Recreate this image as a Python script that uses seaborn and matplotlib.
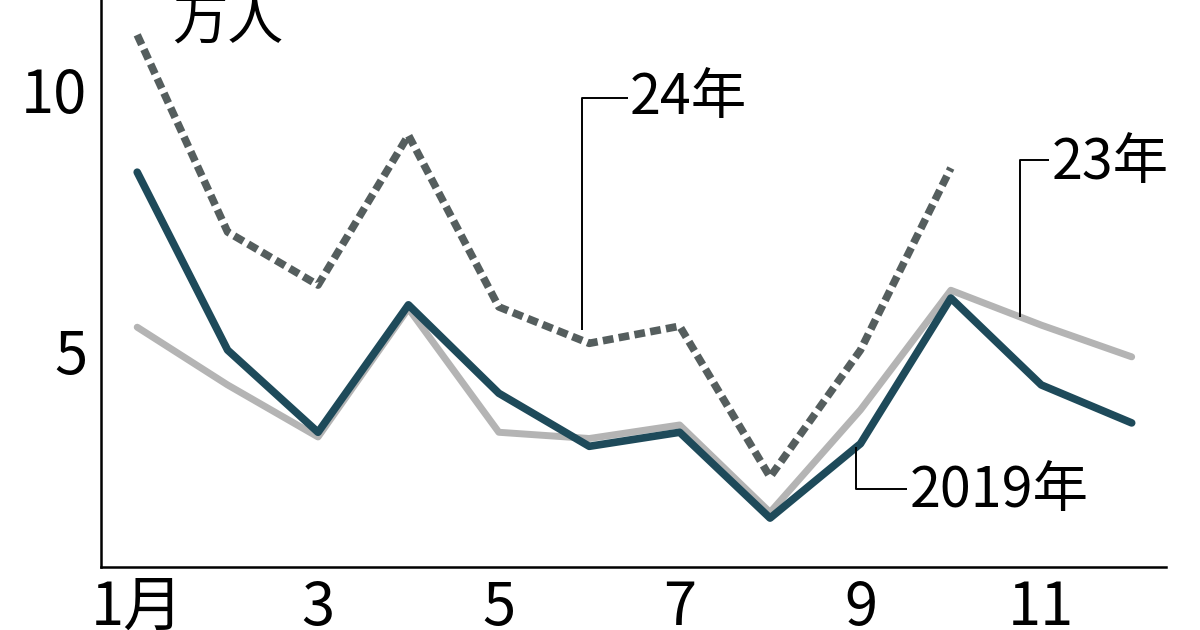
import pandas as pd
import matplotlib
matplotlib.use('Agg')
import matplotlib.pyplot as plt
import seaborn as sns

# monthly visitors (10k people)
months = list(range(1, 13))
v2019 = [8.42, 5.0, 3.42, 5.87, 4.17, 3.15, 3.42, 1.77, 3.2, 6.0, 4.33, 3.6]
v2023 = [5.44, 4.33, 3.33, 5.8, 3.42, 3.3, 3.56, 1.88, 3.85, 6.15, 5.48, 4.87]
v2024 = [11.06, 7.27, 6.25, 9.13, 5.83, 5.13, 5.46, 2.56, 5.0, 8.5]
x_ticklabels = ['1月', '', '3', '', '5', '', '7', '', '9', '', '11', '']
y_ticks = [5, 10]

sns.set_theme(style='white')
jp_font = ['Noto Sans CJK JP', 'DejaVu Sans']
plt.rcParams['font.family'] = jp_font

fig = plt.figure(figsize=(12, 6.3), dpi=100)
ax = fig.add_axes([0.0842, 0.1, 0.8875, 0.9])

sns.lineplot(x=months, y=v2023, ax=ax, color='#b4b4b4', lw=5.0,
             solid_capstyle='round')
sns.lineplot(x=months, y=v2019, ax=ax, color='#1e4a5a', lw=5.5,
             solid_capstyle='round')
sns.lineplot(x=months[:len(v2024)], y=v2024, ax=ax, color='#555e5e', lw=5.5,
             linestyle=(0, (1.4, 0.7)), dash_capstyle='butt')

ax.set_xlim(0.6, 12.38)
ax.set_ylim(0.83, 11.73)
ax.set_xticks(months)
ax.set_xticklabels(x_ticklabels)
ax.set_yticks(y_ticks)
ax.set_yticklabels([str(t) for t in y_ticks])
ax.tick_params(axis='both', direction='in', length=11, width=1.5,
               color='black', labelsize=43, labelcolor='black')
ax.tick_params(axis='x', pad=8)
ax.tick_params(axis='y', pad=10)
for side in ['top', 'right']:
    ax.spines[side].set_visible(False)
for side in ['left', 'bottom']:
    ax.spines[side].set_color('black')
    ax.spines[side].set_linewidth(1.8)

# unit label
fig.text(172 / 1200, 1 - 40 / 630, '万人', fontsize=40,
         color='black', va='baseline', ha='left')

# series labels with leader lines
lead = dict(color='black', lw=1.4, solid_capstyle='butt')
ax.plot([5.92, 5.92, 6.43], [5.38, 9.85, 9.85], **lead)
ax.text(6.45, 9.85, '24年', fontsize=40, va='center',
        ha='left', color='black')
ax.plot([10.77, 10.77, 11.09], [5.63, 8.65, 8.65], **lead)
ax.text(11.11, 8.6, '23年', fontsize=40, va='center',
        ha='left', color='black')
ax.plot([8.95, 8.95, 9.52], [3.13, 2.33, 2.33], **lead)
ax.text(9.54, 2.28, '2019年', fontsize=40, va='center',
        ha='left', color='black')

fig.savefig('out.png', dpi=100)
